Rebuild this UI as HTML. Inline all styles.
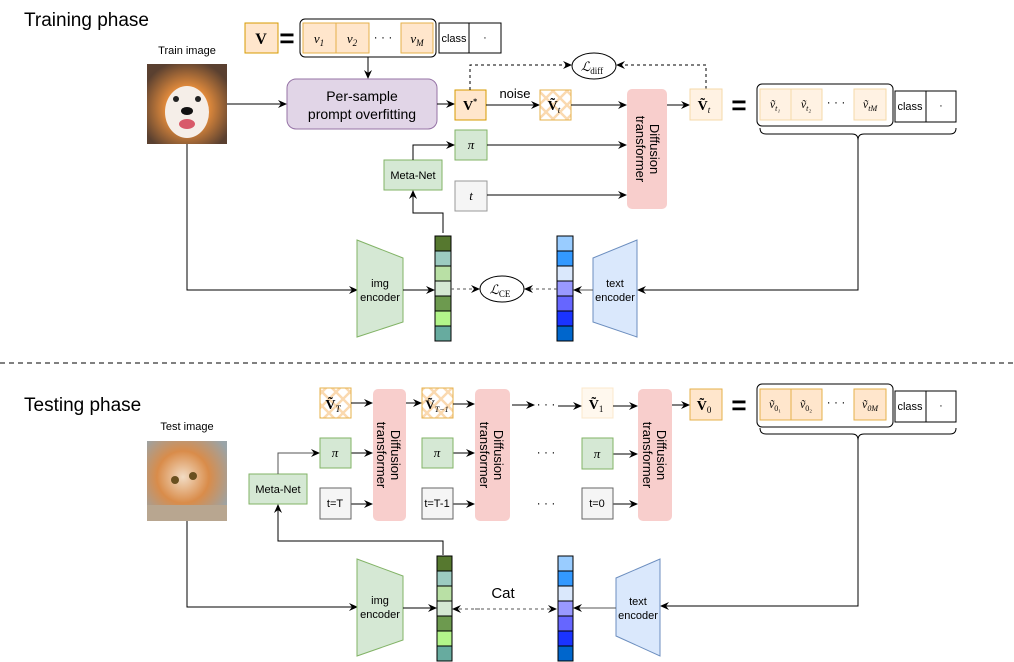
<!DOCTYPE html>
<html><head><meta charset="utf-8"><style>
html,body{margin:0;padding:0;background:#fff;}
svg{display:block;font-family:"Liberation Sans",sans-serif;}
.m{font-family:"Liberation Serif",serif;font-style:italic;}
</style></head><body>
<svg width="1014" height="662" viewBox="0 0 1014 662" xmlns="http://www.w3.org/2000/svg">
<defs>
<marker id="a" markerWidth="10" markerHeight="10" refX="8" refY="5" orient="auto" markerUnits="userSpaceOnUse"><path d="M0,1 L9,5 L0,9 L3,5 z" fill="#000"/></marker>
<pattern id="x" width="14" height="14" patternUnits="userSpaceOnUse"><path d="M0,0 L14,14 M14,0 L0,14" stroke="#fad9b0" stroke-width="2.5"/></pattern>
<radialGradient id="dog" cx="50%" cy="55%" r="60%"><stop offset="0" stop-color="#f4e6d8"/><stop offset="0.45" stop-color="#e08a3c"/><stop offset="1" stop-color="#5a4030"/></radialGradient>
<radialGradient id="cat" cx="45%" cy="45%" r="65%"><stop offset="0" stop-color="#f2dcc4"/><stop offset="0.5" stop-color="#d98c4a"/><stop offset="1" stop-color="#9aa4a8"/></radialGradient>
</defs>

<text x="24" y="26" font-size="19">Training phase</text>
<text x="187" y="54" font-size="11" text-anchor="middle">Train image</text>
<rect x="147" y="64" width="80" height="80" fill="url(#dog)"/>
<ellipse cx="187" cy="112" rx="22" ry="26" fill="#f5eee8"/>
<circle cx="176" cy="99" r="3" fill="#222"/><circle cx="198" cy="99" r="3" fill="#222"/>
<ellipse cx="187" cy="111" rx="6" ry="4" fill="#111"/>
<ellipse cx="187" cy="124" rx="8" ry="5" fill="#d85a6a"/>

<rect x="245" y="23" width="33" height="30" fill="#ffe6cc" stroke="#d79b00" stroke-width="1"/>
<text x="261" y="44" font-size="16" font-weight="bold" text-anchor="middle" font-family="Liberation Serif">V</text>
<text x="287" y="47" font-size="26" font-weight="bold" text-anchor="middle">=</text>
<rect x="300" y="19" width="136" height="38" rx="5" fill="none" stroke="#000"/>
<rect x="303" y="23" width="33" height="30" fill="#ffe6cc" stroke="#e6b04a"/>
<rect x="336" y="23" width="33" height="30" fill="#ffe6cc" stroke="#e6b04a"/>
<rect x="401" y="23" width="32" height="30" fill="#ffe6cc" stroke="#e6b04a"/>
<text x="319" y="43" font-size="13" class="m" text-anchor="middle">v<tspan font-size="9" dy="3">1</tspan></text>
<text x="352" y="43" font-size="13" class="m" text-anchor="middle">v<tspan font-size="9" dy="3">2</tspan></text>
<text x="383" y="41" font-size="12" text-anchor="middle">· · ·</text>
<text x="417" y="43" font-size="13" class="m" text-anchor="middle">v<tspan font-size="9" dy="3">M</tspan></text>
<rect x="439" y="23" width="30" height="30" fill="#fff" stroke="#000"/>
<rect x="469" y="23" width="32" height="30" fill="#fff" stroke="#000"/>
<text x="454" y="42" font-size="11" text-anchor="middle">class</text>
<text x="485" y="41" font-size="11" text-anchor="middle">·</text>
<line x1="368" y1="57" x2="368" y2="78" stroke="#000" marker-end="url(#a)"/>

<rect x="287" y="79" width="150" height="50" rx="9" fill="#e1d5e7" stroke="#9673a6"/>
<text x="362" y="101" font-size="14" text-anchor="middle">Per-sample</text>
<text x="362" y="119" font-size="14" text-anchor="middle">prompt overfitting</text>
<line x1="227" y1="104" x2="286" y2="104" stroke="#000" marker-end="url(#a)"/>
<line x1="437" y1="104" x2="454" y2="104" stroke="#000" marker-end="url(#a)"/>

<rect x="455" y="90" width="31" height="30" fill="#ffe6cc" stroke="#d79b00"/>
<text x="470" y="110" font-size="14" font-weight="bold" text-anchor="middle" font-family="Liberation Serif">V<tspan font-size="8" dy="-6">*</tspan></text>
<text x="515" y="98" font-size="13" text-anchor="middle">noise</text>
<line x1="486" y1="105" x2="539" y2="105" stroke="#000" marker-end="url(#a)"/>
<rect x="540" y="90" width="31" height="30" fill="url(#x)" stroke="#e6b04a"/>
<text x="554" y="110" font-size="14" font-weight="bold" text-anchor="middle" font-family="Liberation Serif">Ṽ<tspan font-size="9" dy="3" font-style="italic" font-weight="normal">t</tspan></text>
<line x1="571" y1="105" x2="626" y2="105" stroke="#000" marker-end="url(#a)"/>

<ellipse cx="594" cy="66" rx="22" ry="13" fill="#fff" stroke="#000"/>
<text x="592" y="71" font-size="13" class="m" text-anchor="middle">ℒ<tspan font-size="9" dy="3" font-style="normal">diff</tspan></text>
<polyline points="470,90 470,65 571,65" fill="none" stroke="#000" stroke-dasharray="3,3" marker-end="url(#a)"/>
<polyline points="706,89 706,65 617,65" fill="none" stroke="#000" stroke-dasharray="3,3" marker-end="url(#a)"/>

<rect x="455" y="130" width="32" height="30" fill="#d5e8d4" stroke="#82b366"/>
<text x="471" y="149" font-size="13" class="m" text-anchor="middle">π</text>
<rect x="384" y="160" width="58" height="30" fill="#d5e8d4" stroke="#82b366"/>
<text x="413" y="179" font-size="11" text-anchor="middle">Meta-Net</text>
<polyline points="413,160 413,145 454,145" fill="none" stroke="#000" marker-end="url(#a)"/>
<line x1="487" y1="145" x2="626" y2="145" stroke="#000" marker-end="url(#a)"/>
<rect x="455" y="181" width="32" height="30" fill="#f5f5f5" stroke="#999"/>
<text x="471" y="200" font-size="13" class="m" text-anchor="middle">t</text>
<line x1="487" y1="195" x2="626" y2="195" stroke="#000" marker-end="url(#a)"/>
<polyline points="443,233 443,213 413,213 413,191" fill="none" stroke="#000" marker-end="url(#a)"/>

<rect x="627" y="89" width="40" height="120" rx="5" fill="#f8cecc"/>
<text transform="translate(650,149) rotate(90)" font-size="13" text-anchor="middle">Diffusion</text>
<text transform="translate(636,149) rotate(90)" font-size="13" text-anchor="middle">transformer</text>
<line x1="667" y1="105" x2="689" y2="105" stroke="#000" marker-end="url(#a)"/>
<rect x="690" y="89" width="32" height="31" fill="#fff2e3" stroke="#f5d9a8"/>
<text x="704" y="110" font-size="14" font-weight="bold" text-anchor="middle" font-family="Liberation Serif">Ṽ<tspan font-size="9" dy="3" font-style="italic" font-weight="normal">t</tspan></text>
<text x="739" y="114" font-size="26" font-weight="bold" text-anchor="middle">=</text>
<rect x="757" y="84" width="136" height="42" rx="5" fill="none" stroke="#000"/>
<rect x="760" y="89" width="31" height="31" fill="#fff2e3" stroke="#f5d9a8"/>
<rect x="791" y="89" width="31" height="31" fill="#fff2e3" stroke="#f5d9a8"/>
<rect x="854" y="89" width="32" height="31" fill="#fff2e3" stroke="#f5d9a8"/>
<text x="775" y="108" font-size="12" class="m" text-anchor="middle">ṽ<tspan font-size="8" dy="3">t₁</tspan></text>
<text x="806" y="108" font-size="12" class="m" text-anchor="middle">ṽ<tspan font-size="8" dy="3">t₂</tspan></text>
<text x="836" y="106" font-size="12" text-anchor="middle">· · ·</text>
<text x="870" y="108" font-size="12" class="m" text-anchor="middle">ṽ<tspan font-size="8" dy="3">tM</tspan></text>
<rect x="895" y="91" width="31" height="31" fill="#fff" stroke="#000"/>
<rect x="926" y="91" width="30" height="31" fill="#fff" stroke="#000"/>
<text x="910" y="110" font-size="11" text-anchor="middle">class</text>
<text x="941" y="109" font-size="11" text-anchor="middle">·</text>
<path d="M760,128 q0,6 6,6 h86 q6,0 6,6 q0,-6 6,-6 h86 q6,0 6,-6" fill="none" stroke="#000"/>
<polyline points="858,140 858,290 638,290" fill="none" stroke="#000" marker-end="url(#a)"/>

<polyline points="187,144 187,290 357,290" fill="none" stroke="#000" marker-end="url(#a)"/>
<polygon points="357,240 403,258 403,322 357,337" fill="#d5e8d4" stroke="#82b366"/>
<text x="380" y="287" font-size="11" text-anchor="middle">img</text>
<text x="380" y="301" font-size="11" text-anchor="middle">encoder</text>
<line x1="403" y1="290" x2="434" y2="290" stroke="#000" marker-end="url(#a)"/>
<g stroke="#000">
<rect x="435" y="236" width="16" height="15" fill="#56782f"/>
<rect x="435" y="251" width="16" height="15" fill="#9ccbc1"/>
<rect x="435" y="266" width="16" height="15" fill="#b9e0a5"/>
<rect x="435" y="281" width="16" height="15" fill="#d5e8d4"/>
<rect x="435" y="296" width="16" height="15" fill="#6d9a4f"/>
<rect x="435" y="311" width="16" height="15" fill="#b3f58a"/>
<rect x="435" y="326" width="16" height="15" fill="#67ab9f"/>
<rect x="557" y="236" width="16" height="15" fill="#99ccff"/>
<rect x="557" y="251" width="16" height="15" fill="#3399ff"/>
<rect x="557" y="266" width="16" height="15" fill="#dae8fc"/>
<rect x="557" y="281" width="16" height="15" fill="#9999ff"/>
<rect x="557" y="296" width="16" height="15" fill="#6666ff"/>
<rect x="557" y="311" width="16" height="15" fill="#1a33ff"/>
<rect x="557" y="326" width="16" height="15" fill="#0066cc"/>
</g>
<ellipse cx="502" cy="289" rx="22" ry="13" fill="#fff" stroke="#000"/>
<text x="500" y="294" font-size="13" class="m" text-anchor="middle">ℒ<tspan font-size="9" dy="3" font-style="normal">CE</tspan></text>
<line x1="451" y1="289" x2="479" y2="289" stroke="#555" stroke-dasharray="3,3" marker-end="url(#a)"/>
<line x1="557" y1="289" x2="525" y2="289" stroke="#555" stroke-dasharray="3,3" marker-end="url(#a)"/>
<polygon points="593,258 637,240 637,337 593,322" fill="#dae8fc" stroke="#6c8ebf"/>
<text x="615" y="287" font-size="11" text-anchor="middle">text</text>
<text x="615" y="301" font-size="11" text-anchor="middle">encoder</text>
<line x1="593" y1="290" x2="574" y2="290" stroke="#555" marker-end="url(#a)"/>

<line x1="0" y1="363" x2="1014" y2="363" stroke="#000" stroke-dasharray="5,4"/>

<text x="24" y="411" font-size="19">Testing phase</text>
<text x="187" y="430" font-size="11" text-anchor="middle">Test image</text>
<rect x="147" y="441" width="80" height="80" fill="url(#cat)"/>
<rect x="147" y="505" width="80" height="16" fill="#b8a690"/>
<circle cx="175" cy="480" r="4" fill="#6a5020"/><circle cx="193" cy="476" r="4" fill="#6a5020"/>

<rect x="249" y="474" width="58" height="30" fill="#d5e8d4" stroke="#82b366"/>
<text x="278" y="493" font-size="11" text-anchor="middle">Meta-Net</text>
<polyline points="278,474 278,453 319,453" fill="none" stroke="#555" marker-end="url(#a)"/>
<polyline points="443,555 443,541 278,541 278,505" fill="none" stroke="#000" marker-end="url(#a)"/>

<rect x="320" y="388" width="31" height="30" fill="url(#x)" stroke="#e6b04a"/>
<text x="333" y="409" font-size="14" font-weight="bold" text-anchor="middle" font-family="Liberation Serif">Ṽ<tspan font-size="9" dy="3" font-style="italic" font-weight="normal">T</tspan></text>
<rect x="422" y="388" width="31" height="30" fill="url(#x)" stroke="#e6b04a"/>
<text x="437" y="409" font-size="13" font-weight="bold" text-anchor="middle" font-family="Liberation Serif">Ṽ<tspan font-size="8" dy="3" font-style="italic" font-weight="normal">T−1</tspan></text>
<rect x="582" y="388" width="31" height="30" fill="#fff8ee" stroke="#fbe8cc"/>
<text x="596" y="409" font-size="14" font-weight="bold" text-anchor="middle" font-family="Liberation Serif">Ṽ<tspan font-size="9" dy="3" font-weight="normal">1</tspan></text>
<rect x="690" y="389" width="32" height="31" fill="#ffe6cc" stroke="#e6b04a"/>
<text x="704" y="410" font-size="14" font-weight="bold" text-anchor="middle" font-family="Liberation Serif">Ṽ<tspan font-size="9" dy="3" font-weight="normal">0</tspan></text>

<g fill="#f8cecc">
<rect x="373" y="389" width="33" height="132" rx="5"/>
<rect x="475" y="389" width="35" height="132" rx="5"/>
<rect x="638" y="389" width="34" height="132" rx="5"/>
</g>
<g font-size="13" text-anchor="middle">
<text transform="translate(391,455) rotate(90)">Diffusion</text><text transform="translate(377,455) rotate(90)">transformer</text>
<text transform="translate(494,455) rotate(90)">Diffusion</text><text transform="translate(480,455) rotate(90)">transformer</text>
<text transform="translate(657,455) rotate(90)">Diffusion</text><text transform="translate(643,455) rotate(90)">transformer</text>
</g>
<g stroke="#000">
<line x1="351" y1="403" x2="372" y2="403" marker-end="url(#a)"/>
<line x1="406" y1="403" x2="421" y2="403" marker-end="url(#a)"/>
<line x1="453" y1="404" x2="474" y2="404" marker-end="url(#a)"/>
<line x1="512" y1="405" x2="534" y2="405" marker-end="url(#a)"/>
<line x1="558" y1="406" x2="581" y2="406" marker-end="url(#a)"/>
<line x1="613" y1="406" x2="637" y2="406" marker-end="url(#a)"/>
<line x1="672" y1="405" x2="689" y2="405" marker-end="url(#a)"/>
<line x1="351" y1="453" x2="372" y2="453" marker-end="url(#a)"/>
<line x1="453" y1="453" x2="474" y2="453" marker-end="url(#a)"/>
<line x1="613" y1="454" x2="637" y2="454" marker-end="url(#a)"/>
<line x1="351" y1="504" x2="372" y2="504" marker-end="url(#a)"/>
<line x1="453" y1="504" x2="474" y2="504" marker-end="url(#a)"/>
<line x1="613" y1="504" x2="637" y2="504" marker-end="url(#a)"/>
</g>
<text x="546" y="408" font-size="12" text-anchor="middle">· · ·</text>
<text x="546" y="456" font-size="12" text-anchor="middle">· · ·</text>
<text x="546" y="507" font-size="12" text-anchor="middle">· · ·</text>
<g fill="#d5e8d4" stroke="#82b366">
<rect x="320" y="438" width="31" height="30"/><rect x="422" y="438" width="31" height="30"/><rect x="582" y="438" width="31" height="31"/>
</g>
<g font-size="13" class="m" text-anchor="middle"><text x="335" y="457">π</text><text x="437" y="457">π</text><text x="597" y="458">π</text></g>
<g fill="#f5f5f5" stroke="#666">
<rect x="320" y="488" width="31" height="31"/><rect x="422" y="488" width="31" height="31"/><rect x="582" y="488" width="31" height="31"/>
</g>
<g font-size="11" text-anchor="middle"><text x="335" y="507">t=T</text><text x="437" y="507">t=T-1</text><text x="597" y="507">t=0</text></g>

<text x="739" y="414" font-size="26" font-weight="bold" text-anchor="middle">=</text>
<rect x="757" y="384" width="136" height="43" rx="5" fill="none" stroke="#000"/>
<rect x="760" y="389" width="31" height="31" fill="#ffe6cc" stroke="#e6b04a"/>
<rect x="791" y="389" width="31" height="31" fill="#ffe6cc" stroke="#e6b04a"/>
<rect x="854" y="389" width="32" height="31" fill="#ffe6cc" stroke="#e6b04a"/>
<text x="775" y="408" font-size="12" class="m" text-anchor="middle">ṽ<tspan font-size="8" dy="3" font-style="normal">0₁</tspan></text>
<text x="806" y="408" font-size="12" class="m" text-anchor="middle">ṽ<tspan font-size="8" dy="3" font-style="normal">0₂</tspan></text>
<text x="836" y="406" font-size="12" text-anchor="middle">· · ·</text>
<text x="870" y="408" font-size="12" class="m" text-anchor="middle">ṽ<tspan font-size="8" dy="3">0M</tspan></text>
<rect x="895" y="391" width="31" height="31" fill="#fff" stroke="#000"/>
<rect x="926" y="391" width="30" height="31" fill="#fff" stroke="#000"/>
<text x="910" y="410" font-size="11" text-anchor="middle">class</text>
<text x="941" y="409" font-size="11" text-anchor="middle">·</text>
<path d="M760,428 q0,6 6,6 h86 q6,0 6,6 q0,-6 6,-6 h86 q6,0 6,-6" fill="none" stroke="#000"/>
<polyline points="858,440 858,606 661,606" fill="none" stroke="#000" marker-end="url(#a)"/>

<polyline points="187,521 187,607 357,607" fill="none" stroke="#000" marker-end="url(#a)"/>
<polygon points="357,559 403,576 403,640 357,656" fill="#d5e8d4" stroke="#82b366"/>
<text x="380" y="604" font-size="11" text-anchor="middle">img</text>
<text x="380" y="618" font-size="11" text-anchor="middle">encoder</text>
<line x1="403" y1="608" x2="436" y2="608" stroke="#000" marker-end="url(#a)"/>
<g stroke="#000">
<rect x="437" y="556" width="15" height="15" fill="#56782f"/>
<rect x="437" y="571" width="15" height="15" fill="#9ccbc1"/>
<rect x="437" y="586" width="15" height="15" fill="#b9e0a5"/>
<rect x="437" y="601" width="15" height="15" fill="#d5e8d4"/>
<rect x="437" y="616" width="15" height="15" fill="#6d9a4f"/>
<rect x="437" y="631" width="15" height="15" fill="#b3f58a"/>
<rect x="437" y="646" width="15" height="15" fill="#67ab9f"/>
<rect x="558" y="556" width="15" height="15" fill="#99ccff"/>
<rect x="558" y="571" width="15" height="15" fill="#3399ff"/>
<rect x="558" y="586" width="15" height="15" fill="#dae8fc"/>
<rect x="558" y="601" width="15" height="15" fill="#9999ff"/>
<rect x="558" y="616" width="15" height="15" fill="#6666ff"/>
<rect x="558" y="631" width="15" height="15" fill="#1a33ff"/>
<rect x="558" y="646" width="15" height="15" fill="#0066cc"/>
</g>
<text x="503" y="598" font-size="15" text-anchor="middle">Cat</text>
<line x1="475" y1="609" x2="556" y2="609" stroke="#555" stroke-dasharray="3,3" marker-end="url(#a)"/>
<line x1="480" y1="609" x2="453" y2="609" stroke="#555" stroke-dasharray="3,3" marker-end="url(#a)"/>
<polygon points="616,578 660,559 660,656 616,636" fill="#dae8fc" stroke="#6c8ebf"/>
<text x="638" y="605" font-size="11" text-anchor="middle">text</text>
<text x="638" y="619" font-size="11" text-anchor="middle">encoder</text>
<line x1="616" y1="608" x2="574" y2="608" stroke="#555" marker-end="url(#a)"/>
</svg>
</body></html>
